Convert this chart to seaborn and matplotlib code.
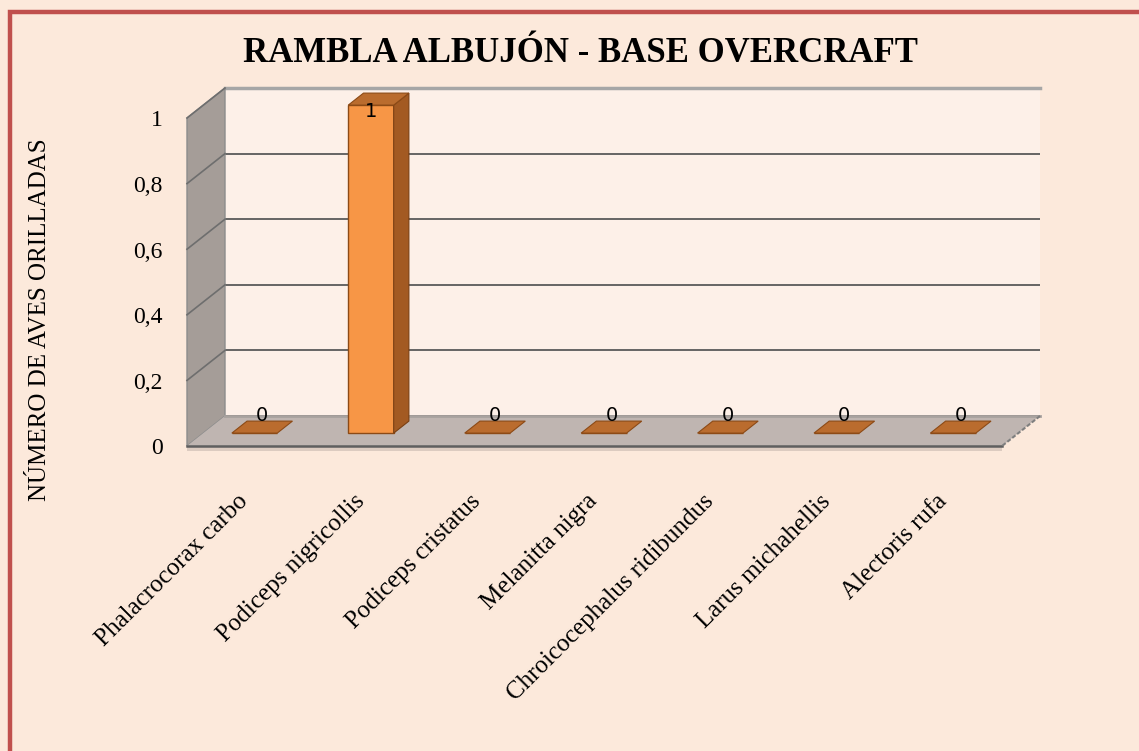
import matplotlib.pyplot as plt
from matplotlib.patches import Polygon, Rectangle
import seaborn as sns

species = ["Phalacrocorax carbo", "Podiceps nigricollis", "Podiceps cristatus",
           "Melanitta nigra", "Chroicocephalus ridibundus", "Larus michahellis",
           "Alectoris rufa"]
counts = [0, 1, 0, 0, 0, 0, 0]
yticks = [0, 0.2, 0.4, 0.6, 0.8, 1]
ytick_labels = ["0", "0,2", "0,4", "0,6", "0,8", "1"]
title = "RAMBLA ALBUJÓN - BASE OVERCRAFT"
ylabel = "NÚMERO DE AVES ORILLADAS"

W, H = 1139, 751
fig = plt.figure(figsize=(W / 100, H / 100), dpi=100)
fig.patch.set_facecolor('#FCE9DB')

# back wall of the 3D box (pixel layout)
wl, wr, wt, wb = 225, 1040, 88, 416
ax = fig.add_axes([wl / W, 1 - wb / H, (wr - wl) / W, (wb - wt) / H])
ax.set_facecolor('#FDF0E8')

sns.barplot(x=species, y=counts, ax=ax, color='#F79646', width=0.39,
            edgecolor='#8C4A16', linewidth=1, saturation=1, zorder=5)
ax.set_xlim(-0.5, len(species) - 0.5)
ax.set_ylim(0, 1)

# pixel -> data conversions for depth
ux = (wr - wl) / len(species)
uy = (wb - wt)
DX, DY = -38 / ux, -30 / uy
f_front, f_back = 0.57, 0.17
shift_x = -7 / ux

for s in ax.spines.values():
    s.set_visible(False)
ax.set_yticks(yticks)
ax.set_yticklabels([])
ax.tick_params(length=0)
ax.yaxis.grid(True, color='#5A5A5A', lw=1.3, zorder=1)
ax.set_xticks(range(len(species)))
ax.set_xticklabels([])
ax.set_xlabel("")
ax.set_ylabel("")
ax.plot([-0.5, len(species) - 0.5], [1, 1], color='#A6A6A6', lw=2.5,
        clip_on=False, zorder=2)

x0, x1 = -0.5, len(species) - 0.5
# left wall
ax.add_patch(Polygon([(x0, 0), (x0, 1), (x0 + DX, 1 + DY), (x0 + DX, DY)],
                     closed=True, fc='#A59D98', ec='#8C8C8C', lw=1,
                     clip_on=False, zorder=2))
for y in yticks[1:]:
    ax.plot([x0, x0 + DX], [y, y + DY], color='#6E6E6E', lw=1.2,
            clip_on=False, zorder=3)
# floor
ax.add_patch(Polygon([(x0 + DX, DY), (x1 + DX, DY), (x1 + DX, DY - 5 / uy),
                      (x0 + DX, DY - 5 / uy)],
                     closed=True, fc='#DCCBC0', ec='none', clip_on=False, zorder=2))
ax.add_patch(Polygon([(x0, 0), (x1, 0), (x1 + DX, DY), (x0 + DX, DY)],
                     closed=True, fc='#BFB5B1', ec='none', clip_on=False, zorder=3))
ax.plot([x0 + DX, x1 + DX], [DY, DY], color='#5F5F5F', lw=1.8, clip_on=False, zorder=4)
ax.plot([x1, x1 + DX], [0, DY], color='#7F7F7F', lw=1.5, ls=(0, (2, 1)),
        clip_on=False, zorder=4)
ax.plot([x0, x1], [0, 0], color='#A8A29F', lw=2, clip_on=False, zorder=3)

# bars: front face shifted into depth, plus side and top faces
ddx, ddy = (f_back - f_front) * DX, (f_back - f_front) * DY
for i, p in enumerate(ax.patches[:len(species)]):
    p.set_x(p.get_x() + f_front * DX + shift_x)
    p.set_y(p.get_y() + f_front * DY)
    p.set_clip_on(False)
    bx0, bx1 = p.get_x(), p.get_x() + p.get_width()
    by0, by1 = p.get_y(), p.get_y() + p.get_height()
    if p.get_height() > 0:
        ax.add_patch(Polygon([(bx1, by0), (bx1, by1), (bx1 + ddx, by1 + ddy),
                              (bx1 + ddx, by0 + ddy)], closed=True, fc='#A35A22',
                             ec='#7A3F12', lw=0.8, clip_on=False, zorder=5))
    ax.add_patch(Polygon([(bx0, by1), (bx1, by1), (bx1 + ddx, by1 + ddy),
                          (bx0 + ddx, by1 + ddy)], closed=True, fc='#BA6C2E',
                         ec='#8C4A16', lw=0.8, clip_on=False, zorder=6))
    v = counts[i]
    cx = (bx0 + bx1) / 2
    if v >= 0.95:
        ax.text(cx, by1 - 6 / uy, str(v), ha='center', va='center',
                fontsize=14, color='black', zorder=7)
    else:
        ax.text(cx + ddx / 2, by1 + 18 / uy, str(v), ha='center', va='center',
                fontsize=14, color='black', zorder=7)

# y tick labels on front plane
for y, lab in zip(yticks, ytick_labels):
    ax.text(x0 + DX - 24 / ux, y + DY - 3 / uy, lab, ha='right', va='center',
            fontsize=17, family='Liberation Serif', clip_on=False)

# x tick labels
for i, name in enumerate(species):
    ax.text(i + f_front * DX + shift_x - 10 / ux, -82 / uy, name, rotation=45,
            rotation_mode='anchor', ha='right', va='center', fontsize=18,
            family='Liberation Serif', clip_on=False)

fig.text(40 / W, 1 - 320 / H, ylabel, rotation=90, ha='center', va='center',
         fontsize=18, family='Liberation Serif')
fig.text(580 / W, 1 - 54 / H, title, ha='center', va='center', fontsize=25,
         fontweight='bold', family='Liberation Serif')

# chart border
fig.patches.append(Rectangle((10 / W, -0.1), 1.2, 1.1 - 12 / H, transform=fig.transFigure,
                             fill=False, ec='#C0504D', lw=3.2, zorder=0))

fig.savefig('out.png', dpi=100, facecolor=fig.get_facecolor())
